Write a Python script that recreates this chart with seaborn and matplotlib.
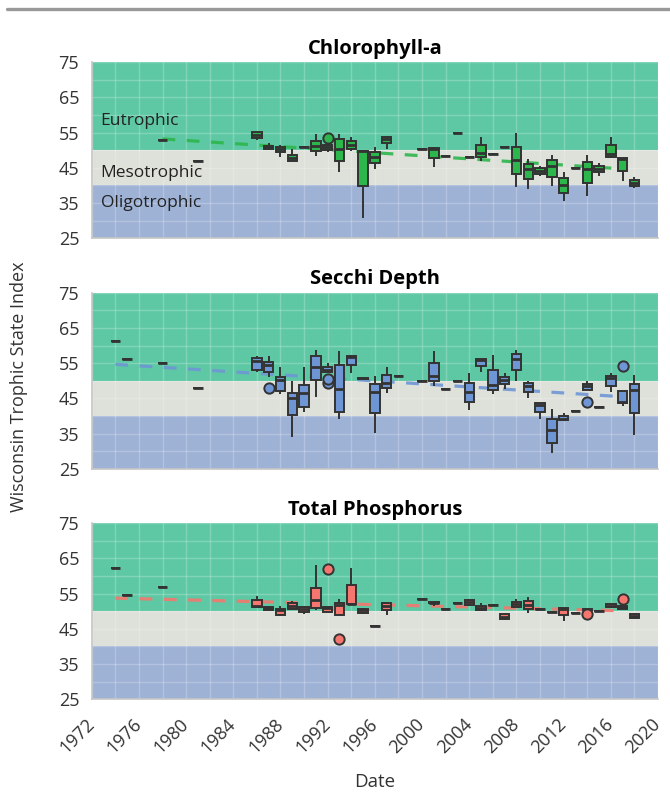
import numpy as np
import pandas as pd
import matplotlib
matplotlib.use("Agg")
import matplotlib.pyplot as plt
from matplotlib.lines import Line2D
from matplotlib.ticker import MultipleLocator
import seaborn as sns

# ---------------------------------------------------------------------------
# Trophic State Index summaries per sampling year:
# lower whisker, first quartile, median, third quartile, upper whisker
# ---------------------------------------------------------------------------

# Chlorophyll-a
chl_years = [1978, 1981, 1986, 1987, 1988, 1989, 1990, 1991, 1992, 1993, 1994, 1995,
             1996, 1997, 2000, 2001, 2002, 2003, 2004, 2005, 2006, 2007, 2008, 2009,
             2010, 2011, 2012, 2013, 2014, 2015, 2016, 2017, 2018]
chl_lo = [52.9, 46.8, 52.9, 50.4, 48.2, 46.8, 50.8, 48.4, 49.4, 43.7, 49.8, 30.7,
          44.7, 50.4, 50.4, 45.3, 48.3, 54.8, 48.2, 47.0, 49.0, 51.0, 39.5, 39.0,
          42.8, 39.7, 35.7, 44.9, 37.0, 42.8, 47.7, 41.4, 39.2]
chl_q1 = [52.9, 46.8, 53.6, 50.4, 49.4, 46.8, 50.8, 49.9, 50.1, 47.0, 50.4, 39.9,
          46.3, 52.0, 50.4, 47.7, 48.3, 54.8, 48.2, 48.0, 49.0, 51.0, 43.2, 41.8,
          43.3, 42.5, 37.8, 44.9, 40.6, 43.7, 48.2, 44.2, 39.9]
chl_med = [52.9, 46.8, 54.4, 50.9, 50.4, 47.8, 50.8, 51.3, 50.8, 50.3, 51.5, 49.8,
           48.0, 53.3, 50.4, 50.4, 48.3, 54.8, 48.2, 49.1, 49.0, 51.0, 47.2, 44.6,
           44.2, 45.6, 40.1, 44.9, 44.8, 44.7, 48.9, 47.4, 40.8]
chl_q3 = [52.9, 46.8, 55.1, 51.3, 51.0, 48.7, 50.8, 52.7, 51.5, 53.1, 52.7, 49.8,
          49.4, 53.7, 50.4, 50.7, 48.3, 54.8, 48.2, 51.4, 49.0, 51.0, 51.0, 46.0,
          44.9, 47.2, 42.0, 44.9, 46.6, 45.5, 51.4, 47.7, 41.6]
chl_hi = [52.9, 46.8, 55.1, 52.0, 51.5, 50.4, 50.8, 54.5, 51.5, 54.5, 53.7, 49.8,
          51.0, 53.7, 50.4, 51.0, 48.3, 54.8, 48.2, 53.7, 49.0, 51.0, 54.8, 47.4,
          45.5, 48.7, 43.9, 44.9, 48.5, 46.3, 53.7, 47.7, 42.3]
chl_out_years = [1992]
chl_out_values = [53.6]
chl_trend_years = [1978, 2017]
chl_trend_values = [53.2, 44.7]

# Secchi depth
sec_years = [1974, 1975, 1978, 1981, 1986, 1987, 1988, 1989, 1990, 1991, 1992, 1993,
             1994, 1995, 1996, 1997, 1998, 2000, 2001, 2002, 2003, 2004, 2005, 2006,
             2007, 2008, 2009, 2010, 2011, 2012, 2013, 2014, 2015, 2016, 2017, 2018]
sec_lo = [61.4, 56.1, 55.1, 48.0, 52.5, 51.0, 46.2, 34.0, 41.2, 45.5, 52.5, 39.2,
          52.1, 50.4, 35.1, 46.7, 51.5, 50.0, 48.6, 47.6, 50.0, 41.7, 52.4, 46.2,
          47.8, 50.0, 45.2, 39.3, 29.6, 38.9, 41.5, 47.4, 42.6, 46.9, 42.9, 34.7]
sec_q1 = [61.4, 56.1, 55.1, 48.0, 53.2, 52.5, 47.1, 40.3, 42.5, 50.2, 52.5, 41.2,
          54.4, 50.6, 40.9, 48.0, 51.5, 50.0, 50.0, 47.6, 50.0, 44.1, 54.2, 47.4,
          49.0, 53.0, 46.9, 41.2, 32.5, 38.9, 41.5, 47.4, 42.6, 48.6, 43.8, 41.0]
sec_med = [61.4, 56.1, 55.1, 48.0, 55.7, 54.4, 50.2, 45.2, 46.6, 54.0, 53.2, 47.6,
           56.8, 50.7, 46.8, 49.3, 51.5, 50.0, 51.5, 47.6, 50.0, 46.9, 56.0, 48.8,
           50.2, 56.1, 48.5, 43.1, 36.0, 39.3, 41.5, 48.5, 42.6, 50.8, 44.1, 47.3]
sec_q3 = [61.4, 56.1, 55.1, 48.0, 56.6, 55.4, 51.1, 46.6, 48.8, 57.0, 53.8, 54.4,
          57.0, 50.8, 49.1, 51.8, 51.5, 50.0, 55.1, 47.6, 50.0, 49.5, 56.3, 53.0,
          51.1, 57.5, 49.3, 43.6, 39.1, 40.1, 41.5, 49.0, 42.6, 51.5, 47.1, 49.0]
sec_hi = [61.4, 56.1, 55.1, 48.0, 57.2, 57.0, 54.0, 49.9, 54.0, 58.9, 55.2, 58.5,
          57.0, 51.0, 51.3, 54.0, 51.5, 50.0, 58.5, 47.6, 50.0, 52.1, 56.3, 57.3,
          52.3, 58.7, 50.0, 43.6, 41.9, 41.0, 41.5, 49.9, 42.6, 52.3, 47.1, 51.6]
sec_out_years = [1987, 1992, 1992, 2014, 2017]
sec_out_values = [48.0, 49.3, 50.4, 44.1, 54.2]
sec_trend_years = [1974, 2017]
sec_trend_values = [54.7, 45.5]

# Total phosphorus
tp_years = [1974, 1975, 1978, 1986, 1987, 1988, 1989, 1990, 1991, 1992, 1993, 1994,
            1995, 1996, 1997, 2000, 2001, 2002, 2003, 2004, 2005, 2006, 2007, 2008,
            2009, 2010, 2011, 2012, 2013, 2014, 2015, 2016, 2017, 2018]
tp_lo = [62.2, 54.6, 56.8, 51.1, 50.2, 48.5, 50.4, 49.2, 50.4, 49.9, 49.0, 52.0,
         49.3, 45.9, 48.8, 53.5, 51.6, 50.6, 52.4, 51.5, 50.4, 51.8, 47.5, 51.1,
         49.6, 50.6, 49.9, 47.3, 49.4, 50.3, 50.1, 50.9, 50.6, 48.0]
tp_q1 = [62.2, 54.6, 56.8, 51.1, 50.4, 49.0, 50.6, 49.7, 51.0, 49.9, 49.0, 52.0,
         49.6, 45.9, 50.4, 53.5, 52.2, 50.6, 52.4, 51.8, 50.4, 51.8, 47.8, 51.1,
         50.7, 50.6, 49.9, 49.0, 49.4, 50.3, 50.1, 51.1, 50.6, 48.0]
tp_med = [62.2, 54.6, 56.8, 51.5, 50.9, 50.2, 51.5, 50.6, 53.2, 50.9, 51.8, 52.0,
          50.3, 45.9, 51.6, 53.5, 52.4, 50.6, 52.4, 52.5, 51.0, 51.8, 48.4, 52.1,
          51.8, 50.6, 49.9, 50.6, 49.4, 50.4, 50.1, 51.6, 51.1, 48.7]
tp_q3 = [62.2, 54.6, 56.8, 53.2, 51.3, 50.7, 52.3, 51.1, 56.7, 51.3, 52.3, 57.3,
         50.7, 45.9, 52.3, 53.5, 52.6, 50.6, 52.4, 53.2, 51.6, 51.8, 49.1, 52.6,
         52.9, 50.6, 49.9, 50.9, 49.4, 50.6, 50.1, 52.1, 51.6, 49.1]
tp_hi = [62.2, 54.6, 56.8, 54.4, 51.5, 51.6, 52.8, 51.5, 63.0, 51.3, 53.4, 62.2,
         50.9, 45.9, 52.3, 53.5, 52.6, 50.6, 52.4, 53.5, 52.4, 51.8, 49.5, 53.4,
         54.0, 50.6, 49.9, 50.9, 49.4, 50.6, 50.1, 52.1, 51.6, 49.4]
tp_out_years = [1992, 1993, 2014, 2017]
tp_out_values = [61.9, 42.0, 49.1, 53.4]
tp_trend_years = [1974, 2017]
tp_trend_values = [53.7, 50.1]

# Trophic class bands
band_names = ["Oligotrophic", "Mesotrophic", "Eutrophic"]
band_edges = [25, 40, 50, 75]
band_colors = ["#9eb2d5", "#dee0da", "#5ec8a4"]
band_label_y = [34.9, 43.6, 58.3]

panel_titles = ["Chlorophyll-a", "Secchi Depth", "Total Phosphorus"]
box_colors = ["#2db64c", "#6e96d4", "#f5766e"]
trend_colors = ["#2db64c", "#6e96d4", "#f5766e"]

y_ticks = [25, 35, 45, 55, 65, 75]
x_ticks = list(range(1972, 2021, 4))

AXIS_GREY = "#c6c6c6"
TEXT = "#333333"

sns.set_style("white")
plt.rcParams["font.family"] = ["Open Sans", "DejaVu Sans"]

fig = plt.figure(figsize=(6.7, 7.93), dpi=100)

left, width = 0.1369, 0.8452
panel_bottoms = [0.6995, 0.4086, 0.1182]
panel_height = 0.2222

panels = [
    (chl_years, chl_lo, chl_q1, chl_med, chl_q3, chl_hi,
     chl_out_years, chl_out_values, chl_trend_years, chl_trend_values),
    (sec_years, sec_lo, sec_q1, sec_med, sec_q3, sec_hi,
     sec_out_years, sec_out_values, sec_trend_years, sec_trend_values),
    (tp_years, tp_lo, tp_q1, tp_med, tp_q3, tp_hi,
     tp_out_years, tp_out_values, tp_trend_years, tp_trend_values),
]

for i, (yrs, lo, q1, med, q3, hi, oy, ov, ty, tv) in enumerate(panels):
    ax = fig.add_axes([left, panel_bottoms[i], width, panel_height])

    # trophic class background bands
    for k in range(3):
        ax.axhspan(band_edges[k], band_edges[k + 1], color=band_colors[k], lw=0, zorder=0)

    # one row per summary statistic, so the box edges land on the listed values
    obs = pd.DataFrame({
        "year": np.repeat(yrs, 5),
        "tsi": np.column_stack([lo, q1, med, q3, hi]).ravel(),
    })

    # long-term trend, drawn underneath the boxes
    sns.lineplot(x=ty, y=tv, ax=ax, color=trend_colors[i], lw=2.3,
                 linestyle=(0, (4, 3.6)), alpha=0.9, zorder=0.9)

    sns.boxplot(data=obs, x="year", y="tsi", native_scale=True, ax=ax,
                color=box_colors[i], saturation=1, width=0.8, whis=(0, 100),
                linecolor="#333333", linewidth=1.4, fliersize=0,
                showcaps=False, medianprops=dict(linewidth=2, color="#333333"))

    sns.scatterplot(x=oy, y=ov, ax=ax, color=box_colors[i], edgecolor="#333333",
                    linewidth=1.4, s=55, zorder=5, legend=False)

    ax.set_xlim(1972, 2020)
    ax.set_ylim(25, 75)
    ax.set_xlabel("")
    ax.set_ylabel("")

    ax.set_xticks(x_ticks)
    ax.xaxis.set_minor_locator(MultipleLocator(2))
    ax.set_yticks(y_ticks)
    ax.yaxis.set_minor_locator(MultipleLocator(5))
    ax.set_axisbelow(True)
    ax.grid(True, which="both", color="white", alpha=0.22, lw=1)
    ax.tick_params(which="minor", length=0)
    ax.tick_params(which="major", length=6, width=1, color=AXIS_GREY,
                   labelcolor=TEXT, labelsize=13, direction="out", pad=3)

    for side in ("top", "right"):
        ax.spines[side].set_visible(False)
    for side in ("left", "bottom"):
        ax.spines[side].set_visible(True)
        ax.spines[side].set_color(AXIS_GREY)
        ax.spines[side].set_linewidth(1.2)

    ax.set_title(panel_titles[i], fontsize=14.5, fontweight="bold", color="black", pad=6)

    if i == 0:
        for name, yv in zip(band_names, band_label_y):
            ax.text(1972.75, yv, name, fontsize=12.5, color="#222222", va="center", ha="left")

    if i < 2:
        ax.set_xticklabels([])
    else:
        ax.set_xticklabels([str(t) for t in x_ticks], rotation=45, ha="right",
                           va="center", rotation_mode="anchor")
        ax.tick_params(axis="x", labelsize=13, pad=10)

fig.text(0.028, 0.512, "Wisconsin Trophic State Index", rotation=90, ha="center",
         va="center", fontsize=13, color=TEXT)
fig.text(0.559, 0.002, "Date", ha="center", va="bottom", fontsize=13.5, color=TEXT)

# header rule
fig.add_artist(Line2D([0.011, 1.0], [0.9885, 0.9885], color="#999999", lw=2.4,
                      transform=fig.transFigure))

fig.savefig("out.png", dpi=100)
